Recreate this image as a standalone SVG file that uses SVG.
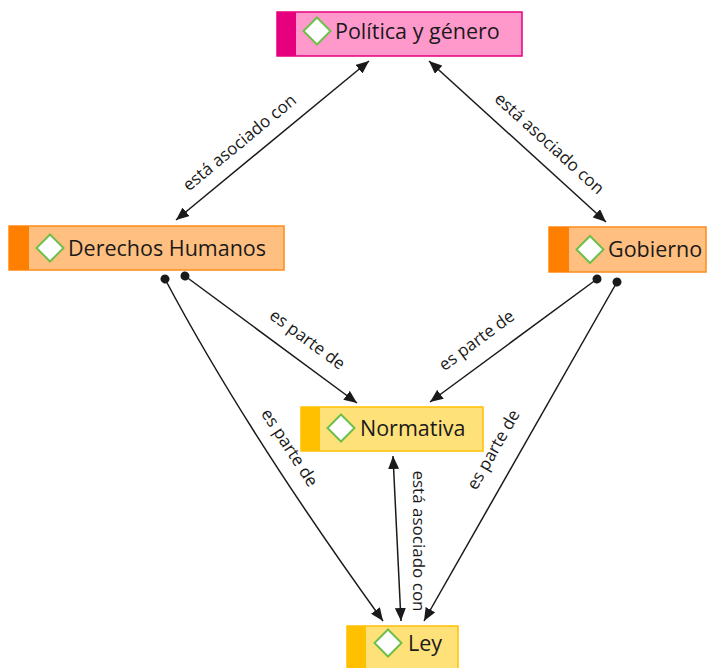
<svg xmlns="http://www.w3.org/2000/svg" width="709" height="668" viewBox="0 0 709 668">
<style>
.node-text{font-family:"Open Sans","Noto Sans","DejaVu Sans",sans-serif;font-size:21.5px;font-weight:500;fill:#1a1a1a;}
.lbl{font-family:"Open Sans","Noto Sans","DejaVu Sans",sans-serif;font-size:17px;fill:#1a1a1a;text-anchor:middle;}
.edge{fill:none;stroke:#1a1a1a;stroke-width:1.5;}
.icon{fill:#ffffff;stroke:#6cc04a;stroke-width:2;}
.pink{fill:#ff99cc;stroke:#e6007e;stroke-width:1.5;}
.pinks{fill:#e6007e;}
.orange{fill:#ffbf80;stroke:#ff8c1a;stroke-width:1.5;}
.oranges{fill:#ff7f00;}
.yellow{fill:#ffe17a;stroke:#ffc000;stroke-width:1.5;}
.yellows{fill:#ffc000;}
</style>
<defs>
<marker id="arr" viewBox="0 0 13 11" refX="13" refY="5.5" markerWidth="13" markerHeight="11" markerUnits="userSpaceOnUse" orient="auto-start-reverse">
<path d="M0,0 L13,5.5 L0,11 Z" fill="#1a1a1a"/>
</marker>
<marker id="dot" viewBox="0 0 10 10" refX="5" refY="5" markerWidth="10" markerHeight="10" markerUnits="userSpaceOnUse" orient="auto">
<circle cx="5" cy="5" r="4.5" fill="#1a1a1a"/>
</marker>
</defs>
<g id="connectors">
<path class="edge" d="M176,220 L369,61" marker-start="url(#arr)" marker-end="url(#arr)"/>
<path class="edge" d="M429,61 L606,222" marker-start="url(#arr)" marker-end="url(#arr)"/>
<path class="edge" d="M185,276 L357,403" marker-start="url(#dot)" marker-end="url(#arr)"/>
<path class="edge" d="M165,279 Q245,430 383,621" marker-start="url(#dot)" marker-end="url(#arr)"/>
<path class="edge" d="M597,279 L430,402" marker-start="url(#dot)" marker-end="url(#arr)"/>
<path class="edge" d="M617,282 L424,621" marker-start="url(#dot)" marker-end="url(#arr)"/>
<path class="edge" d="M393,456 L401,621" marker-start="url(#arr)" marker-end="url(#arr)"/>
<text class="lbl" transform="translate(240,143) rotate(-39.5)" y="5">está asociado con</text>
<text class="lbl" transform="translate(549,144) rotate(42.3)" y="5">está asociado con</text>
<text class="lbl" transform="translate(307,340) rotate(36.4)" y="5">es parte de</text>
<text class="lbl" transform="translate(477,341) rotate(-36.4)" y="5">es parte de</text>
<text class="lbl" transform="translate(289,448) rotate(57)" y="5">es parte de</text>
<text class="lbl" transform="translate(494,450) rotate(-60.3)" y="5">es parte de</text>
<text class="lbl" transform="translate(418,541) rotate(90)" y="5">está asociado con</text>
</g>
<g id="politica">
<rect class="pink" x="277" y="12" width="245" height="44"/>
<rect class="pinks" x="277" y="12" width="19" height="44"/>
<path class="icon" d="M317,17.5 L330.5,31 L317,44.5 L303.5,31 Z"/>
<text class="node-text" x="335" y="38.5">Política y género</text>
</g>
<g id="derechos">
<rect class="orange" x="9" y="226" width="275" height="44"/>
<rect class="oranges" x="9" y="226" width="20" height="44"/>
<path class="icon" d="M50,234.5 L63.5,248 L50,261.5 L36.5,248 Z"/>
<text class="node-text" x="68" y="255.5">Derechos Humanos</text>
</g>
<g id="gobierno">
<rect class="orange" x="549" y="227" width="157" height="45"/>
<rect class="oranges" x="549" y="227" width="20" height="45"/>
<path class="icon" d="M590,236 L603.5,249.5 L590,263 L576.5,249.5 Z"/>
<text class="node-text" x="608" y="256.5">Gobierno</text>
</g>
<g id="normativa">
<rect class="yellow" x="301" y="407" width="182" height="44"/>
<rect class="yellows" x="301" y="407" width="19" height="44"/>
<path class="icon" d="M341,414.5 L354.5,428 L341,441.5 L327.5,428 Z"/>
<text class="node-text" x="360" y="435.5">Normativa</text>
</g>
<g id="ley">
<rect class="yellow" x="347" y="626" width="111" height="46"/>
<rect class="yellows" x="347" y="626" width="19" height="46"/>
<path class="icon" d="M388,629.5 L401.5,643 L388,656.5 L374.5,643 Z"/>
<text class="node-text" x="408" y="650.5">Ley</text>
</g>
</svg>
